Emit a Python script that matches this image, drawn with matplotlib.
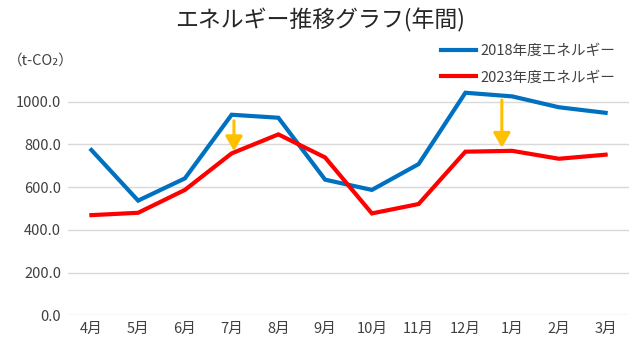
import matplotlib
matplotlib.use("Agg")
import matplotlib.pyplot as plt

plt.rcParams['font.family'] = ['Noto Sans CJK JP', 'DejaVu Sans']

# data
months = ['4月', '5月', '6月', '7月', '8月', '9月', '10月', '11月', '12月', '1月', '2月', '3月']
energy2018 = [774, 537, 641, 939, 925, 635, 587, 708, 1042, 1025, 974, 948]
energy2023 = [469, 480, 587, 758, 847, 739, 477, 521, 766, 770, 733, 752]
yticks = [0, 200, 400, 600, 800, 1000]

blue = '#0070C0'
red = '#FF0000'
orange = '#FFC000'

fig = plt.figure(figsize=(6.41, 3.48), dpi=100)
# plot area placed in pixels: left 68, right 629, bottom 315, top 59
ax = fig.add_axes([68 / 641, (348 - 315.3) / 348, 561 / 641, 256.3 / 348])

x = list(range(len(months)))
ax.plot(x, energy2018, color=blue, lw=3, label='2018年度エネルギー', solid_joinstyle='miter')
ax.plot(x, energy2023, color=red, lw=3, label='2023年度エネルギー', solid_joinstyle='miter')

# arrows showing the drop
arrowprops = dict(arrowstyle='-|>,head_width=0.32,head_length=0.55', color=orange,
                  lw=2.2, mutation_scale=16, shrinkA=0, shrinkB=0)
ax.annotate('', xy=(3.05, 769), xytext=(3.05, 911), arrowprops=arrowprops)
ax.annotate('', xy=(8.78, 785), xytext=(8.78, 1008), arrowprops=arrowprops)

ax.set_xlim(-0.5, len(months) - 0.5)
ax.set_ylim(0, 1200)
ax.set_xticks(x)
ax.set_xticklabels(months, fontsize=10.5, color='#404040')
ax.set_yticks(yticks)
ax.set_yticklabels(['%.1f' % v for v in yticks], fontsize=10.5, color='#404040')
ax.tick_params(length=0, pad=5)
ax.grid(axis='y', color='#D9D9D9', lw=1)
ax.set_axisbelow(True)
for s in ax.spines.values():
    s.set_visible(False)

fig.text(0.5, 1 - 20 / 348, 'エネルギー推移グラフ(年間)', ha='center', va='center',
         fontsize=16.5, color='#262626')
fig.text(8 / 641, 1 - 61 / 348, '（t-CO₂）', ha='left', va='center', fontsize=10.5,
         color='#404040')

leg = ax.legend(loc='upper right', bbox_to_anchor=(628 / 641, 1 - 31 / 348),
                bbox_transform=fig.transFigure, frameon=False, fontsize=10.5,
                handlelength=2.4, handletextpad=0.3, labelspacing=0.85)
for t in leg.get_texts():
    t.set_color('#404040')

fig.savefig('out.png', dpi=100)
